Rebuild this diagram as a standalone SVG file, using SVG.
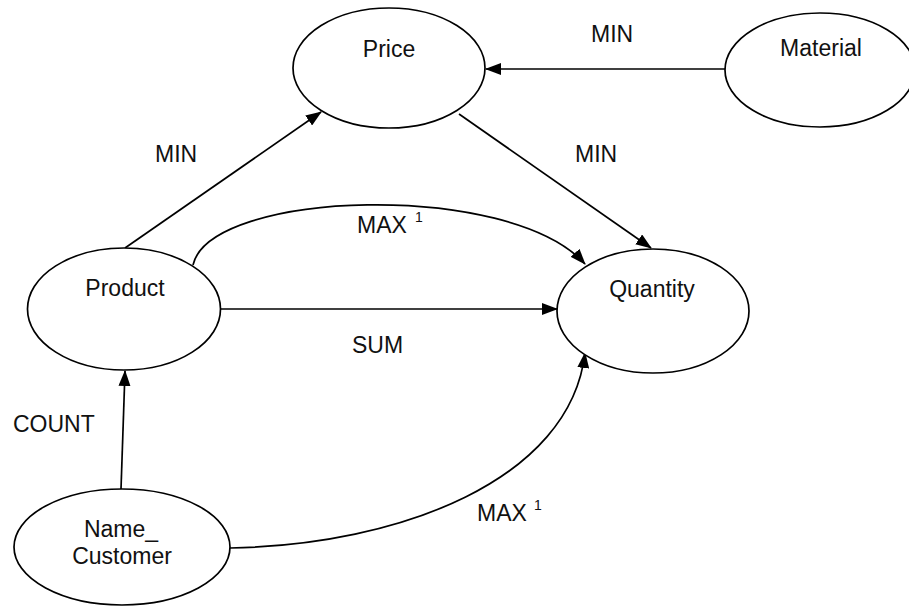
<svg xmlns="http://www.w3.org/2000/svg" width="909" height="606" viewBox="0 0 909 606">
<defs>
<style>
.node ellipse{fill:#fff;stroke:#000;stroke-width:1.7}
text{font-family:"Liberation Sans",Arial,sans-serif;font-size:23px;fill:#111}
.c{text-anchor:middle}
.sup{font-size:14px}
#connectors path,#connectors line{fill:none;stroke:#000;stroke-width:1.7;marker-end:url(#arr)}
</style>
<marker id="arr" markerUnits="userSpaceOnUse" markerWidth="16" markerHeight="12" refX="15" refY="6" orient="auto">
<path d="M0,0 L16,6 L0,12 z" fill="#000"/>
</marker>
</defs>
<rect width="909" height="606" fill="#fff"/>
<g id="connectors">
<line x1="725" y1="69" x2="486" y2="69"/>
<line x1="125" y1="248" x2="321" y2="112"/>
<line x1="459" y1="114" x2="651" y2="248"/>
<path d="M193,265 C210,190 510,180 585,264"/>
<line x1="221" y1="309" x2="557" y2="309"/>
<line x1="121" y1="489" x2="125" y2="371"/>
<path d="M230,548 C400,545 570,480 585,353"/>
</g>
<g id="labels">
<text x="591" y="42">MIN</text>
<text x="155" y="162">MIN</text>
<text x="575" y="162">MIN</text>
<text x="357" y="233">MAX</text><text class="sup" x="415" y="222">1</text>
<text x="352" y="353">SUM</text>
<text x="13" y="432">COUNT</text>
<text x="477" y="521">MAX</text><text class="sup" x="534" y="510">1</text>
</g>
<g id="price" class="node"><ellipse cx="389" cy="68" rx="96" ry="60"/><text class="c" x="389" y="57">Price</text></g>
<g id="material" class="node"><ellipse cx="820" cy="70" rx="95" ry="57"/><text class="c" x="821" y="56">Material</text></g>
<g id="product" class="node"><ellipse cx="124" cy="309" rx="96.5" ry="61"/><text class="c" x="125" y="296">Product</text></g>
<g id="quantity" class="node"><ellipse cx="653" cy="311" rx="96" ry="62"/><text class="c" x="652" y="297">Quantity</text></g>
<g id="name_customer" class="node"><ellipse cx="122" cy="547" rx="108" ry="58"/><text class="c" x="121" y="537">Name_</text><text class="c" x="122" y="564">Customer</text></g>
</svg>
